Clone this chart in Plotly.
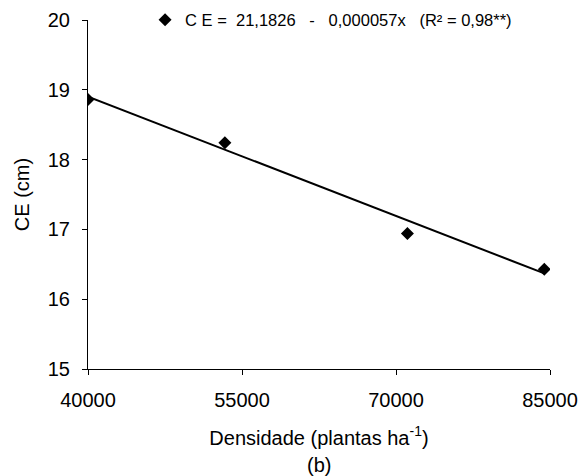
import plotly.graph_objects as go

# Data
densidade = [40000, 53333, 71111, 84444]
ce = [18.86, 18.24, 16.94, 16.43]
intercept = 21.1826
slope = -0.000057
x_ticks = [40000, 55000, 70000, 85000]
y_ticks = [15, 16, 17, 18, 19, 20]

line_x = [densidade[0], densidade[-1]]
line_y = [intercept + slope * v for v in line_x]

FONT = "Liberation Sans, Arial, sans-serif"
NB = "\u00a0"
eq_name = ("C" + NB + "E" + NB + "=" + NB * 2 + "21,1826" + NB * 3 + "-" + NB * 3 +
           "0,000057x" + NB * 3 + "(R²" + NB + "=" + NB + "0,98**)")

fig = go.Figure()
fig.add_trace(go.Scatter(
    x=line_x, y=line_y, mode="lines",
    line=dict(color="black", width=2), showlegend=False, hoverinfo="skip"))
fig.add_trace(go.Scatter(
    x=densidade, y=ce, mode="markers", name=eq_name,
    marker=dict(symbol="diamond", size=10, color="black")))

fig.update_layout(
    width=588, height=476,
    margin=dict(l=88, r=38, t=20, b=107, autoexpand=False),
    paper_bgcolor="white", plot_bgcolor="white",
    font=dict(family=FONT, size=20, color="black"),
    showlegend=True,
    legend=dict(x=0.1235, y=1.0, xanchor="left", yanchor="middle",
                font=dict(family=FONT, size=16.5, color="black"),
                bgcolor="rgba(0,0,0,0)", itemwidth=30),
    xaxis=dict(range=[40000, 85000], tickvals=x_ticks, ticktext=[str(v) for v in x_ticks],
               showgrid=False, zeroline=False, showline=True, linecolor="black", linewidth=1,
               ticks="outside", ticklen=5, tickcolor="black", ticklabelstandoff=8,
               tickfont=dict(size=20),
               title=dict(text="Densidade (plantas ha<sup>-1</sup>)", standoff=20,
                          font=dict(size=20))),
    yaxis=dict(range=[15, 20], tickvals=y_ticks,
               showgrid=False, zeroline=False, showline=True, linecolor="black", linewidth=1,
               ticks="outside", ticklen=5, tickcolor="black", ticklabelstandoff=8,
               tickfont=dict(size=20),
               title=dict(text="CE (cm)", standoff=12, font=dict(size=20))),
    annotations=[dict(text="(b)", xref="paper", yref="paper", x=0.5, y=0,
                      yshift=-96, xanchor="center", yanchor="middle",
                      showarrow=False, font=dict(family=FONT, size=20, color="black"))],
)

fig.write_html("out.html")
